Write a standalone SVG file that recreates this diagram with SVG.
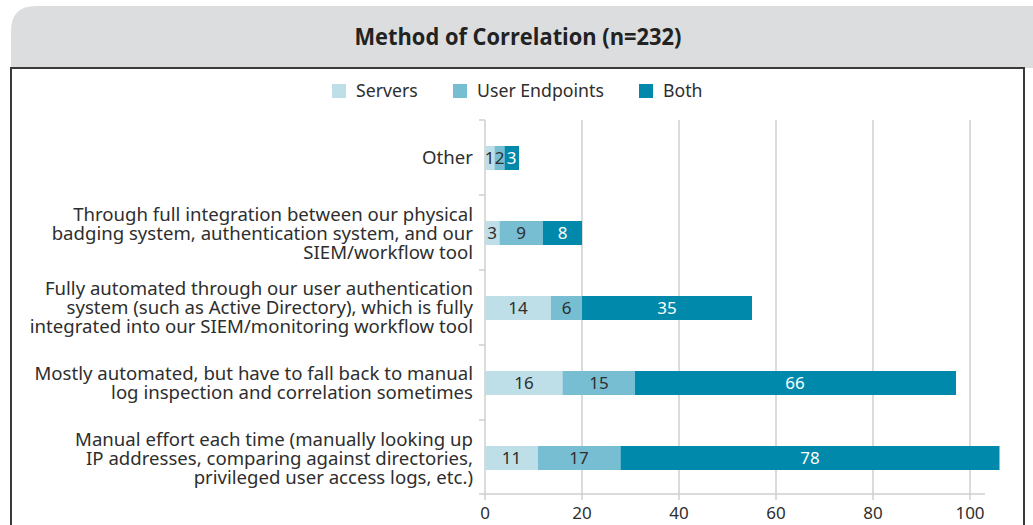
<svg xmlns="http://www.w3.org/2000/svg" width="1033" height="525" viewBox="0 0 1033 525">
<style>
.t{font-family:"Noto Sans","Open Sans",sans-serif;font-size:17px;fill:#2e2e2e}
.cat{text-anchor:end;font-size:18.6px}
.lg{font-size:17.7px}
.v{text-anchor:middle}
.w{fill:#ffffff}
.s{fill:#bedfe7}
.u{fill:#77bed3}
.b{fill:#0089aa}
.grid{stroke:#cfcfcf;stroke-width:1.5;fill:none}
.title{font-family:"Open Sans","Noto Sans",sans-serif;font-weight:bold;font-size:23px;fill:#222;text-anchor:middle}
</style>
<rect width="1033" height="525" fill="#ffffff"/>
<g id="header">
<path d="M11,68 V31 Q11,6 36,6 H1033 V68 Z" fill="#dcdddf"/>
<text class="title" x="518" y="45" textLength="327" lengthAdjust="spacingAndGlyphs">Method of Correlation (n=232)</text>
</g>
<g id="frame">
<path d="M11,525 V68 H1024 V525" fill="none" stroke="#3a3a3a" stroke-width="2"/>
</g>
<g id="legend">
<rect class="s" x="332" y="84" width="14" height="14"/>
<text class="t lg" x="356" y="97">Servers</text>
<rect class="u" x="453" y="84" width="14" height="14"/>
<text class="t lg" x="477" y="97">User Endpoints</text>
<rect class="b" x="639" y="84" width="14" height="14"/>
<text class="t lg" x="663" y="97">Both</text>
</g>
<g id="axes">
<path class="grid" d="M582,120 V500 M679,120 V500 M776,120 V500 M873,120 V500 M970,120 V500"/>
<path class="grid" d="M485,120 V500 M479,120 H485 M479,195 H485 M479,270 H485 M479,345 H485 M479,420 H485 M479,494 H985"/>
<text class="t v" x="485" y="519">0</text>
<text class="t v" x="582" y="519">20</text>
<text class="t v" x="679" y="519">40</text>
<text class="t v" x="776" y="519">60</text>
<text class="t v" x="873" y="519">80</text>
<text class="t v" x="970" y="519">100</text>
</g>
<g id="row-other">
<text class="t cat" x="473" y="164">Other</text>
<rect class="s" x="485" y="146" width="9.5" height="24"/>
<rect class="u" x="494.5" y="146" width="10" height="24"/>
<rect class="b" x="504.5" y="146" width="14.5" height="24"/>
<text class="t v" x="489.5" y="164">1</text>
<text class="t v" x="499.5" y="164">2</text>
<text class="t v w" x="511.5" y="164">3</text>
</g>
<g id="row-badging">
<text class="t cat" x="473" y="221">Through full integration between our physical</text>
<text class="t cat" x="473" y="240">badging system, authentication system, and our</text>
<text class="t cat" x="473" y="259">SIEM/workflow tool</text>
<rect class="s" x="485" y="221" width="14.5" height="24"/>
<rect class="u" x="499.5" y="221" width="43.5" height="24"/>
<rect class="b" x="543" y="221" width="39" height="24"/>
<text class="t v" x="492" y="239">3</text>
<text class="t v" x="521" y="239">9</text>
<text class="t v w" x="562.5" y="239">8</text>
</g>
<g id="row-fully">
<text class="t cat" x="473" y="295">Fully automated through our user authentication</text>
<text class="t cat" x="473" y="314">system (such as Active Directory), which is fully</text>
<text class="t cat" x="473" y="333">integrated into our SIEM/monitoring workflow tool</text>
<rect class="s" x="485" y="296" width="66" height="24"/>
<rect class="u" x="551" y="296" width="31" height="24"/>
<rect class="b" x="582" y="296" width="170" height="24"/>
<text class="t v" x="518" y="314">14</text>
<text class="t v" x="566.5" y="314">6</text>
<text class="t v w" x="667" y="314">35</text>
</g>
<g id="row-mostly">
<text class="t cat" x="473" y="380">Mostly automated, but have to fall back to manual</text>
<text class="t cat" x="473" y="399">log inspection and correlation sometimes</text>
<rect class="s" x="485" y="371" width="77.5" height="24"/>
<rect class="u" x="562.5" y="371" width="72.5" height="24"/>
<rect class="b" x="635" y="371" width="321" height="24"/>
<text class="t v" x="524" y="389">16</text>
<text class="t v" x="599" y="389">15</text>
<text class="t v w" x="795" y="389">66</text>
</g>
<g id="row-manual">
<text class="t cat" x="473" y="446">Manual effort each time (manually looking up</text>
<text class="t cat" x="473" y="465">IP addresses, comparing against directories,</text>
<text class="t cat" x="473" y="484">privileged user access logs, etc.)</text>
<rect class="s" x="485" y="446" width="53" height="24"/>
<rect class="u" x="538" y="446" width="82.5" height="24"/>
<rect class="b" x="620.5" y="446" width="379" height="24"/>
<text class="t v" x="511.5" y="464">11</text>
<text class="t v" x="579" y="464">17</text>
<text class="t v w" x="810" y="464">78</text>
</g>
</svg>
